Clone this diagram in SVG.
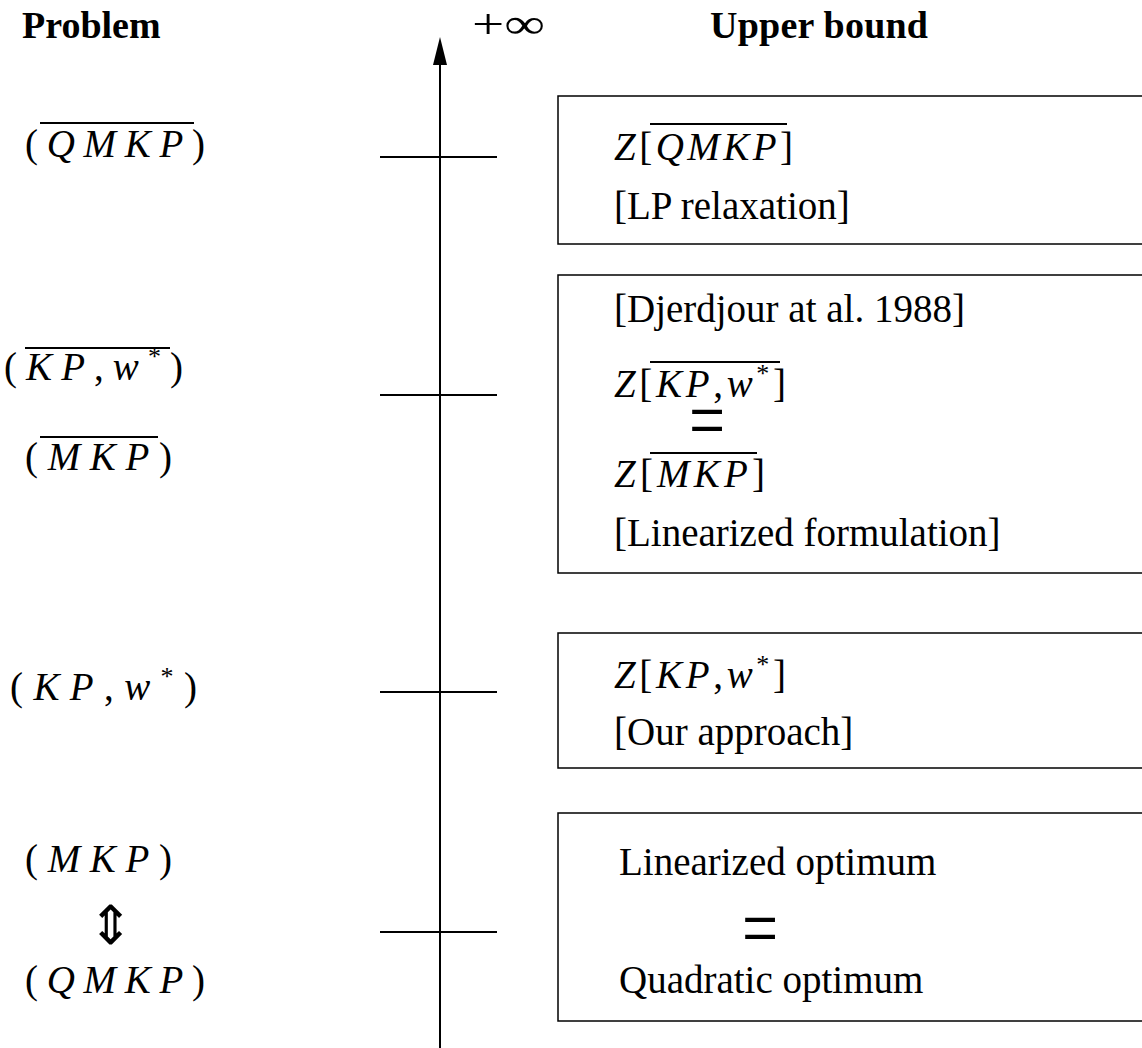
<svg xmlns="http://www.w3.org/2000/svg" width="1142" height="1048" viewBox="0 0 1142 1048">
<style>
text{font-family:"Liberation Serif","Times New Roman",serif;font-size:39px;fill:#000}
.h{font-weight:bold;font-size:38px}
.i{font-style:italic}
.sup{font-size:26px}
.ln{stroke:#000;stroke-width:2;fill:none}
.ov{stroke:#000;stroke-width:2;fill:none}
.box{stroke:#000;stroke-width:1.5;fill:none}
.eq{font-size:64px}
</style>
<g id="headers">
<text class="h" x="22" y="38">Problem</text>
<text class="h" x="710" y="38" textLength="218" lengthAdjust="spacing">Upper bound</text>
<text x="472" y="38" textLength="73" lengthAdjust="spacingAndGlyphs" style="font-size:42px">+∞</text>
</g>
<g id="connectors">
<line class="ln" x1="440" y1="62" x2="440" y2="1048"/>
<polygon points="440,37 433,65 447,65" fill="#000"/>
<line class="ln" x1="380" y1="157" x2="497" y2="157"/>
<line class="ln" x1="380" y1="395" x2="497" y2="395"/>
<line class="ln" x1="380" y1="692" x2="497" y2="692"/>
<line class="ln" x1="380" y1="932" x2="497" y2="932"/>
</g>
<g id="p1">
<text x="25" y="157" textLength="180" lengthAdjust="spacing">(<tspan class="i">QMKP</tspan>)</text>
<line class="ov" x1="40" y1="123" x2="194" y2="123"/>
</g>
<g id="p2">
<text x="4" y="380" textLength="179" lengthAdjust="spacing">(<tspan class="i">KP</tspan>,<tspan class="i">w</tspan><tspan class="sup" dy="-15">*</tspan><tspan dy="15">)</tspan></text>
<line class="ov" x1="25" y1="348" x2="170" y2="348"/>
</g>
<g id="p3">
<text x="25" y="470" textLength="147" lengthAdjust="spacing">(<tspan class="i">MKP</tspan>)</text>
<line class="ov" x1="40" y1="437" x2="158" y2="437"/>
</g>
<g id="p4">
<text x="10" y="700" textLength="187" lengthAdjust="spacing">(<tspan class="i">KP</tspan>,<tspan class="i">w</tspan><tspan class="sup" dy="-15">*</tspan><tspan dy="15">)</tspan></text>
</g>
<g id="p5">
<text x="25" y="872" textLength="147" lengthAdjust="spacing">(<tspan class="i">MKP</tspan>)</text>
<text x="110" y="944" text-anchor="middle" style="font-family:'DejaVu Sans',sans-serif;font-weight:200;font-size:54px">⇕</text>
<text x="25" y="993" textLength="180" lengthAdjust="spacing">(<tspan class="i">QMKP</tspan>)</text>
</g>
<g id="b1">
<rect class="box" x="558" y="96" width="600" height="148"/>
<text x="614" y="160" textLength="179" lengthAdjust="spacing"><tspan class="i">Z</tspan>[<tspan class="i">QMKP</tspan>]</text>
<line class="ov" x1="650" y1="124" x2="787" y2="124"/>
<text x="614" y="219">[LP relaxation]</text>
</g>
<g id="b2">
<rect class="box" x="558" y="275" width="600" height="298"/>
<text x="614" y="322">[Djerdjour at al. 1988]</text>
<text x="614" y="397" textLength="172" lengthAdjust="spacing"><tspan class="i">Z</tspan>[<tspan class="i">KP</tspan>,<tspan class="i">w</tspan><tspan class="sup" dy="-15">*</tspan><tspan dy="15">]</tspan></text>
<line class="ov" x1="650" y1="362" x2="780" y2="362"/>
<text class="eq" x="707" y="0" text-anchor="middle" transform="translate(0,449) scale(1,1.31)">=</text>
<text x="614" y="487" textLength="151" lengthAdjust="spacing"><tspan class="i">Z</tspan>[<tspan class="i">MKP</tspan>]</text>
<line class="ov" x1="650" y1="453" x2="757" y2="453"/>
<text x="614" y="546">[Linearized formulation]</text>
</g>
<g id="b3">
<rect class="box" x="558" y="633" width="600" height="135"/>
<text x="614" y="688" textLength="172" lengthAdjust="spacing"><tspan class="i">Z</tspan>[<tspan class="i">KP</tspan>,<tspan class="i">w</tspan><tspan class="sup" dy="-15">*</tspan><tspan dy="15">]</tspan></text>
<text x="614" y="745">[Our approach]</text>
</g>
<g id="b4">
<rect class="box" x="558" y="813" width="600" height="208"/>
<text x="619" y="875">Linearized optimum</text>
<text class="eq" x="760" y="0" text-anchor="middle" transform="translate(0,957) scale(1,1.31)">=</text>
<text x="619" y="993">Quadratic optimum</text>
</g>
</svg>
